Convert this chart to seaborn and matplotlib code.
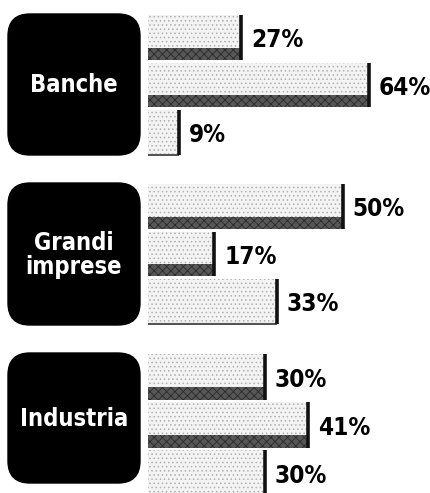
import matplotlib
matplotlib.use("Agg")
import matplotlib.pyplot as plt
from matplotlib.patches import FancyBboxPatch, Rectangle
import seaborn as sns
import pandas as pd

# ---- data ----
groups = ["Banche", "Grandi\nimprese", "Industria"]
banche_vals = [27, 64, 9]
grandi_vals = [50, 17, 33]
industria_vals = [30, 41, 30]
bar_keys = ["a", "b", "c"]

sns.set_style("white")
FONT = ["DejaVu Sans"]
plt.rcParams["font.family"] = FONT
plt.rcParams["hatch.linewidth"] = 0.6

W, H = 431, 493
fig = plt.figure(figsize=(W / 100, H / 100), dpi=100)

# layout (pixels, top-origin): group vertical span, px-per-percent scale
layout = [
    dict(top=14, bottom=156, scale=3.45),
    dict(top=183, bottom=325, scale=3.9),
    dict(top=353, bottom=497, scale=3.9),
]
box_layout = [(8, 14, 132, 141), (8, 183, 132, 142), (8, 353, 132, 130)]
bar_left = 148

bg = fig.add_axes([0, 0, 1, 1])
bg.set_xlim(0, W)
bg.set_ylim(H, 0)
bg.axis("off")

all_vals = [banche_vals, grandi_vals, industria_vals]
for gi, (name, vals, lay, box) in enumerate(zip(groups, all_vals, layout, box_layout)):
    bx, by, bw, bh = box
    bg.add_patch(FancyBboxPatch((bx, by), bw, bh,
                                boxstyle="round,pad=0,rounding_size=22",
                                facecolor="black", edgecolor="black"))
    bg.text(bx + bw / 2, by + bh / 2 + 1, name, color="white", ha="center",
            va="center", fontsize=17, fontweight="bold", linespacing=1.05,
            family=FONT, fontstretch="condensed")

    ax_w = W - bar_left
    ax = fig.add_axes([bar_left / W, 1 - lay["bottom"] / H,
                       ax_w / W, (lay["bottom"] - lay["top"]) / H])
    df = pd.DataFrame({"key": bar_keys, "val": vals})
    sns.barplot(data=df, x="val", y="key", orient="h", ax=ax, width=0.95,
                color="#f3f3f3", saturation=1, edgecolor="#b0b0b0",
                linewidth=0, hatch="....")
    ax.set_xlim(0, ax_w / lay["scale"])
    ax.set_ylim(2.5, -0.5)
    ax.axis("off")
    ax.set_facecolor("none")

    for bi, (p, v) in enumerate(zip(list(ax.patches), vals)):
        x0, w = p.get_x(), p.get_width()
        y, h = p.get_y(), p.get_height()
        if bi < 2:
            ax.add_patch(Rectangle((x0, y + h * 0.72), w, h * 0.28,
                                   facecolor="#575757", edgecolor="#2a2a2a",
                                   linewidth=0, hatch="xxxx"))
        else:
            ax.plot([x0, x0 + w], [y + h, y + h], color="#555555", lw=1.5,
                    solid_capstyle="butt")
        ax.plot([x0 + w, x0 + w], [y, y + h], color="#111111", lw=2.6,
                solid_capstyle="butt")
        ax.annotate(f"{v}%", xy=(x0 + w, y + h / 2), xytext=(7, -2),
                    textcoords="offset points", ha="left", va="center",
                    fontsize=17.5, fontweight="bold", color="black", family=FONT,
                    fontstretch="condensed")

fig.savefig("out.png", dpi=100)
